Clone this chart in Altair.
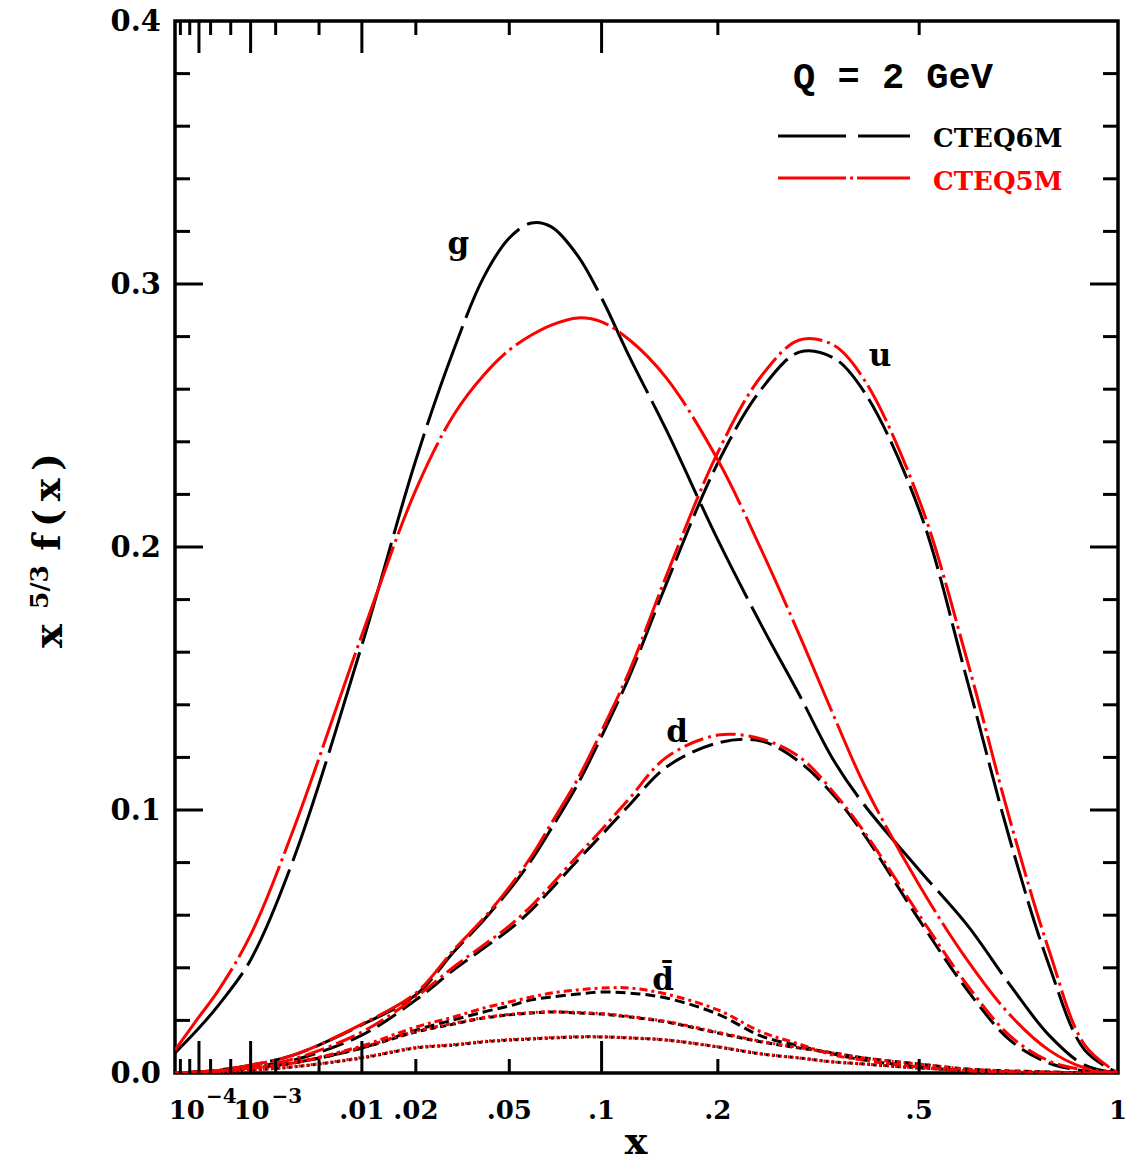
import altair as alt
import pandas as pd

# x grid (momentum fraction)
X = [1e-5, 1e-4, 3e-4, 1e-3, 3e-3, 0.01, 0.02, 0.03, 0.04, 0.05, 0.06, 0.07, 0.085,
     0.1, 0.12, 0.15, 0.2, 0.25, 0.3, 0.35, 0.4, 0.5, 0.6, 0.7, 0.8, 0.9, 1.0]

# x^(5/3) f(x)
G_6M = [0.0076, 0.0171, 0.0259, 0.0430, 0.0810, 0.1627, 0.2331, 0.2749, 0.3027, 0.3175, 0.3232, 0.3217, 0.3106,
        0.2947, 0.2722, 0.2445, 0.2027, 0.1703, 0.1437, 0.1190, 0.1019, 0.0772, 0.0563, 0.0335, 0.0144, 0.0030, 0.0]
G_5M = [0.0087, 0.0213, 0.0316, 0.0525, 0.0924, 0.1665, 0.2217, 0.2502, 0.2654, 0.2749, 0.2806, 0.2844, 0.2871,
        0.2856, 0.2787, 0.2643, 0.2331, 0.1989, 0.1665, 0.1361, 0.1095, 0.0715, 0.0430, 0.0221, 0.0087, 0.0019, 0.0]
U_6M = [0.0, 0.0004, 0.0011, 0.0030, 0.0068, 0.0183, 0.0297, 0.0460, 0.0582, 0.0696, 0.0810, 0.0930, 0.1100,
        0.1280, 0.1510, 0.1860, 0.2320, 0.2600, 0.2741, 0.2719, 0.2589, 0.2141, 0.1494, 0.0886, 0.0411, 0.0087, 0.0]
U_5M = [0.0, 0.0004, 0.0011, 0.0030, 0.0068, 0.0186, 0.0304, 0.0468, 0.0589, 0.0707, 0.0825, 0.0950, 0.1120,
        0.1300, 0.1530, 0.1890, 0.2360, 0.2650, 0.2787, 0.2768, 0.2635, 0.2179, 0.1570, 0.0962, 0.0468, 0.0106, 0.0]
D_6M = [0.0, 0.0004, 0.0008, 0.0023, 0.0049, 0.0144, 0.0278, 0.0392, 0.0475, 0.0545, 0.0620, 0.0700, 0.0810,
        0.0905, 0.1020, 0.1163, 0.1255, 0.1262, 0.1183, 0.1057, 0.0905, 0.0582, 0.0316, 0.0125, 0.0038, 0.0008, 0.0]
D_5M = [0.0, 0.0004, 0.0008, 0.0023, 0.0053, 0.0156, 0.0289, 0.0403, 0.0487, 0.0559, 0.0636, 0.0716, 0.0828,
        0.0925, 0.1045, 0.1200, 0.1285, 0.1270, 0.1202, 0.1068, 0.0916, 0.0601, 0.0335, 0.0141, 0.0046, 0.0011, 0.0]
DB_6M = [0.0, 0.0004, 0.0008, 0.0019, 0.0038, 0.0095, 0.0163, 0.0202, 0.0232, 0.0255, 0.0278, 0.0289, 0.0300,
         0.0308, 0.0304, 0.0285, 0.0224, 0.0140, 0.0103, 0.0072, 0.0049, 0.0023, 0.0008, 0.0004, 0.0, 0.0, 0.0]
DB_5M = [0.0, 0.0004, 0.0008, 0.0019, 0.0038, 0.0103, 0.0175, 0.0213, 0.0247, 0.0270, 0.0289, 0.0304, 0.0316,
         0.0323, 0.0323, 0.0300, 0.0240, 0.0156, 0.0110, 0.0068, 0.0049, 0.0023, 0.0008, 0.0004, 0.0, 0.0, 0.0]
UB_6M = [0.0, 0.0004, 0.0008, 0.0019, 0.0038, 0.0095, 0.0156, 0.0186, 0.0209, 0.0221, 0.0228, 0.0232, 0.0228,
         0.0224, 0.0213, 0.0194, 0.0152, 0.0118, 0.0095, 0.0076, 0.0057, 0.0034, 0.0015, 0.0008, 0.0004, 0.0, 0.0]
UB_5M = [0.0, 0.0004, 0.0008, 0.0019, 0.0040, 0.0098, 0.0159, 0.0189, 0.0211, 0.0223, 0.0230, 0.0233, 0.0230,
         0.0226, 0.0215, 0.0196, 0.0155, 0.0120, 0.0096, 0.0076, 0.0057, 0.0034, 0.0015, 0.0008, 0.0004, 0.0, 0.0]
S_6M = [0.0, 0.0, 0.0004, 0.0011, 0.0023, 0.0057, 0.0095, 0.0106, 0.0118, 0.0125, 0.0129, 0.0133, 0.0137,
        0.0137, 0.0133, 0.0125, 0.0099, 0.0072, 0.0057, 0.0042, 0.0034, 0.0019, 0.0011, 0.0004, 0.0, 0.0, 0.0]
S_5M = [0.0, 0.0, 0.0004, 0.0011, 0.0024, 0.0059, 0.0097, 0.0108, 0.0120, 0.0127, 0.0131, 0.0135, 0.0138,
        0.0138, 0.0134, 0.0126, 0.0100, 0.0073, 0.0057, 0.0042, 0.0034, 0.0019, 0.0011, 0.0004, 0.0, 0.0, 0.0]

SERIES = [
    ("g6", "CTEQ6M", G_6M), ("u6", "CTEQ6M", U_6M), ("d6", "CTEQ6M", D_6M),
    ("db6", "CTEQ6M", DB_6M), ("ub6", "CTEQ6M", UB_6M), ("s6", "CTEQ6M", S_6M),
    ("g5", "CTEQ5M", G_5M), ("u5", "CTEQ5M", U_5M), ("d5", "CTEQ5M", D_5M),
    ("db5", "CTEQ5M", DB_5M), ("ub5", "CTEQ5M", UB_5M), ("s5", "CTEQ5M", S_5M),
]
DASHES = {
    "g6": [105, 9], "u6": [40, 8], "d6": [22, 8], "db6": [10, 5], "ub6": [6, 4], "s6": [3, 3],
    "g5": [100, 5, 3, 5], "u5": [40, 5, 3, 5], "d5": [20, 5, 3, 5], "db5": [8, 4, 3, 4],
    "ub5": [4, 3, 2, 3], "s5": [2, 2],
}

rows = []
for name, setname, ys in SERIES:
    assert len(ys) == len(X), name
    for xv, yv in zip(X, ys):
        rows.append({"x": xv, "y": yv, "series": name, "set": setname})
df = pd.DataFrame(rows)

X_MAJOR = [1e-4, 1e-3, 0.01, 0.1]
X_MINOR = [2e-5, 5e-5, 2e-4, 5e-4, 2e-3, 5e-3, 0.02, 0.05, 0.2, 0.5]
Y_MAJOR = [0.1, 0.2, 0.3]
Y_MINOR = [0.02, 0.04, 0.06, 0.08, 0.12, 0.14, 0.16, 0.18, 0.22, 0.24, 0.26, 0.28,
           0.32, 0.34, 0.36, 0.38]
X_LABELS = [".01", ".02", ".05", ".1", ".2", ".5", "1"]
X_LABEL_VALUES = [0.01, 0.02, 0.05, 0.1, 0.2, 0.5, 1.0]
Y_LABELS = ["0.0", "0.1", "0.2", "0.3", "0.4"]
Y_LABEL_VALUES = [0.0, 0.1, 0.2, 0.3, 0.4]

W, H = 943, 1052
SERIF = "DejaVu Serif"

xs = alt.Scale(type="pow", exponent=1 / 3, domain=[1e-5, 1], nice=False, zero=False)
ys_ = alt.Scale(domain=[0, 0.4], nice=False, zero=False)


def lines(setname, color):
    sub = df[df["set"] == setname]
    names = [s[0] for s in SERIES if s[1] == setname]
    return alt.Chart(sub).mark_line(strokeWidth=3, interpolate="catmull-rom", clip=True, color=color).encode(
        x=alt.X("x:Q", scale=xs, axis=None),
        y=alt.Y("y:Q", scale=ys_, axis=None),
        strokeDash=alt.StrokeDash("series:N", scale=alt.Scale(domain=names, range=[DASHES[n] for n in names]),
                                  legend=None),
        detail="series:N",
    )


def tick_layer(vals, chan, length, side):
    d = pd.DataFrame({"v": vals})
    base = alt.Chart(d).mark_rule(strokeWidth=3, color="black")
    if chan == "x":
        if side == "bottom":
            return base.encode(x=alt.X("v:Q", scale=xs, axis=None), y=alt.value(H), y2=alt.value(H - length))
        return base.encode(x=alt.X("v:Q", scale=xs, axis=None), y=alt.value(0), y2=alt.value(length))
    if side == "left":
        return base.encode(y=alt.Y("v:Q", scale=ys_, axis=None), x=alt.value(0), x2=alt.value(length))
    return base.encode(y=alt.Y("v:Q", scale=ys_, axis=None), x=alt.value(W), x2=alt.value(W - length))


ticks = [
    tick_layer(X_MAJOR, "x", 32, "bottom"), tick_layer(X_MINOR, "x", 14, "bottom"),
    tick_layer(X_MAJOR, "x", 32, "top"), tick_layer(X_MINOR, "x", 14, "top"),
    tick_layer(Y_MAJOR, "y", 28, "left"), tick_layer(Y_MINOR, "y", 15, "left"),
    tick_layer(Y_MAJOR, "y", 28, "right"), tick_layer(Y_MINOR, "y", 15, "right"),
]

# tick labels
ylab = alt.Chart(pd.DataFrame({"v": Y_LABEL_VALUES, "t": Y_LABELS})).mark_text(
    font=SERIF, fontSize=29, fontWeight="bold", color="black", baseline="middle", align="right", dy=1
).encode(y=alt.Y("v:Q", scale=ys_, axis=None), x=alt.value(-14), text="t:N")

xlab = alt.Chart(pd.DataFrame({"v": X_LABEL_VALUES, "t": X_LABELS})).mark_text(
    font=SERIF, fontSize=26, fontWeight="bold", color="black", baseline="alphabetic", align="center"
).encode(x=alt.X("v:Q", scale=xs, axis=None), y=alt.value(H + 46), text="t:N")

ten4 = alt.Chart(pd.DataFrame({"v": [1e-4], "t": ["10"]})).mark_text(
    font=SERIF, fontSize=26, fontWeight="bold", baseline="alphabetic", align="right", dx=6
).encode(x=alt.X("v:Q", scale=xs, axis=None), y=alt.value(H + 46), text="t:N")
exp4 = alt.Chart(pd.DataFrame({"v": [1e-4], "t": ["\u22124"]})).mark_text(
    font=SERIF, fontSize=20, fontWeight="bold", baseline="alphabetic", align="left", dx=7
).encode(x=alt.X("v:Q", scale=xs, axis=None), y=alt.value(H + 30), text="t:N")
ten3 = alt.Chart(pd.DataFrame({"v": [1e-3], "t": ["10"]})).mark_text(
    font=SERIF, fontSize=26, fontWeight="bold", baseline="alphabetic", align="right", dx=19
).encode(x=alt.X("v:Q", scale=xs, axis=None), y=alt.value(H + 46), text="t:N")
exp3 = alt.Chart(pd.DataFrame({"v": [1e-3], "t": ["\u22123"]})).mark_text(
    font=SERIF, fontSize=20, fontWeight="bold", baseline="alphabetic", align="left", dx=21
).encode(x=alt.X("v:Q", scale=xs, axis=None), y=alt.value(H + 30), text="t:N")

# axis titles
xtitle = alt.Chart(pd.DataFrame({"t": ["x"]})).mark_text(
    font=SERIF, fontSize=38, fontWeight="bold", baseline="alphabetic", align="center"
).encode(x=alt.value(461), y=alt.value(H + 81), text="t:N")
yt_x = alt.Chart(pd.DataFrame({"t": ["x"]})).mark_text(
    font=SERIF, fontSize=40, fontWeight="bold", baseline="alphabetic", align="center", angle=270
).encode(x=alt.value(-113), y=alt.value(615), text="t:N")
yt_e = alt.Chart(pd.DataFrame({"t": ["5/3"]})).mark_text(
    font=SERIF, fontSize=25, fontWeight="bold", baseline="alphabetic", align="center", angle=270
).encode(x=alt.value(-127), y=alt.value(566), text="t:N")
yt_f = alt.Chart(pd.DataFrame({"t": ["f\u2009(\u2009x\u2009)"]})).mark_text(
    font=SERIF, fontSize=38, fontWeight="bold", baseline="alphabetic", align="center", angle=270
).encode(x=alt.value(-115), y=alt.value(481), text="t:N")

# curve labels (data coordinates)
ann = pd.DataFrame({
    "x": [0.0314, 0.4272, 0.1597, 0.1472],
    "y": [0.3114, 0.2688, 0.1259, 0.0316],
    "t": ["g", "u", "d", "d\u0304"],
})
annot = alt.Chart(ann).mark_text(
    font=SERIF, fontSize=31, fontWeight="bold", baseline="alphabetic", align="center", color="black"
).encode(x=alt.X("x:Q", scale=xs, axis=None), y=alt.Y("y:Q", scale=ys_, axis=None), text="t:N")

qlab = alt.Chart(pd.DataFrame({"x": [0.2913], "y": [0.3745], "t": ["Q = 2 GeV"]})).mark_text(
    font="Liberation Mono", fontSize=37, fontWeight="bold", baseline="alphabetic", align="left"
).encode(x=alt.X("x:Q", scale=xs, axis=None), y=alt.Y("y:Q", scale=ys_, axis=None), text="t:N")

# legend
LEG_X = [0.2712, 0.4823]
leg_lines = pd.DataFrame({
    "x": LEG_X + LEG_X,
    "y": [0.3563, 0.3563, 0.3403, 0.3403],
    "set": ["CTEQ6M", "CTEQ6M", "CTEQ5M", "CTEQ5M"],
})
leg_black = alt.Chart(leg_lines[leg_lines["set"] == "CTEQ6M"]).mark_line(
    strokeWidth=3, color="black", strokeDash=[68, 12]
).encode(x=alt.X("x:Q", scale=xs, axis=None), y=alt.Y("y:Q", scale=ys_, axis=None))
leg_red = alt.Chart(leg_lines[leg_lines["set"] == "CTEQ5M"]).mark_line(
    strokeWidth=3, color="red", strokeDash=[68, 4, 3, 4]
).encode(x=alt.X("x:Q", scale=xs, axis=None), y=alt.Y("y:Q", scale=ys_, axis=None))
leg_text = pd.DataFrame({"x": [0.5277, 0.5277], "y": [0.3522, 0.3358], "t": ["CTEQ6M", "CTEQ5M"],
                         "set": ["CTEQ6M", "CTEQ5M"]})
leg_txt = alt.Chart(leg_text).mark_text(
    font=SERIF, fontSize=26, fontWeight="bold", baseline="alphabetic", align="left"
).encode(
    x=alt.X("x:Q", scale=xs, axis=None), y=alt.Y("y:Q", scale=ys_, axis=None), text="t:N",
    color=alt.Color("set:N", scale=alt.Scale(domain=["CTEQ6M", "CTEQ5M"], range=["black", "red"]), legend=None),
)

chart = alt.layer(
    lines("CTEQ6M", "black"), lines("CTEQ5M", "red"),
    *ticks, ylab, xlab, ten4, exp4, ten3, exp3, xtitle, yt_x, yt_e, yt_f,
    annot, qlab, leg_black, leg_red, leg_txt,
).resolve_scale(strokeDash="independent", color="independent").properties(
    width=W, height=H,
    autosize=alt.AutoSizeParams(type="none"),
    padding={"left": 167, "top": 13, "right": 14, "bottom": 86},
    background="white",
).configure_view(stroke="black", strokeWidth=3.5)

chart.save("out.html", embed_options={"renderer": "svg", "actions": False})
